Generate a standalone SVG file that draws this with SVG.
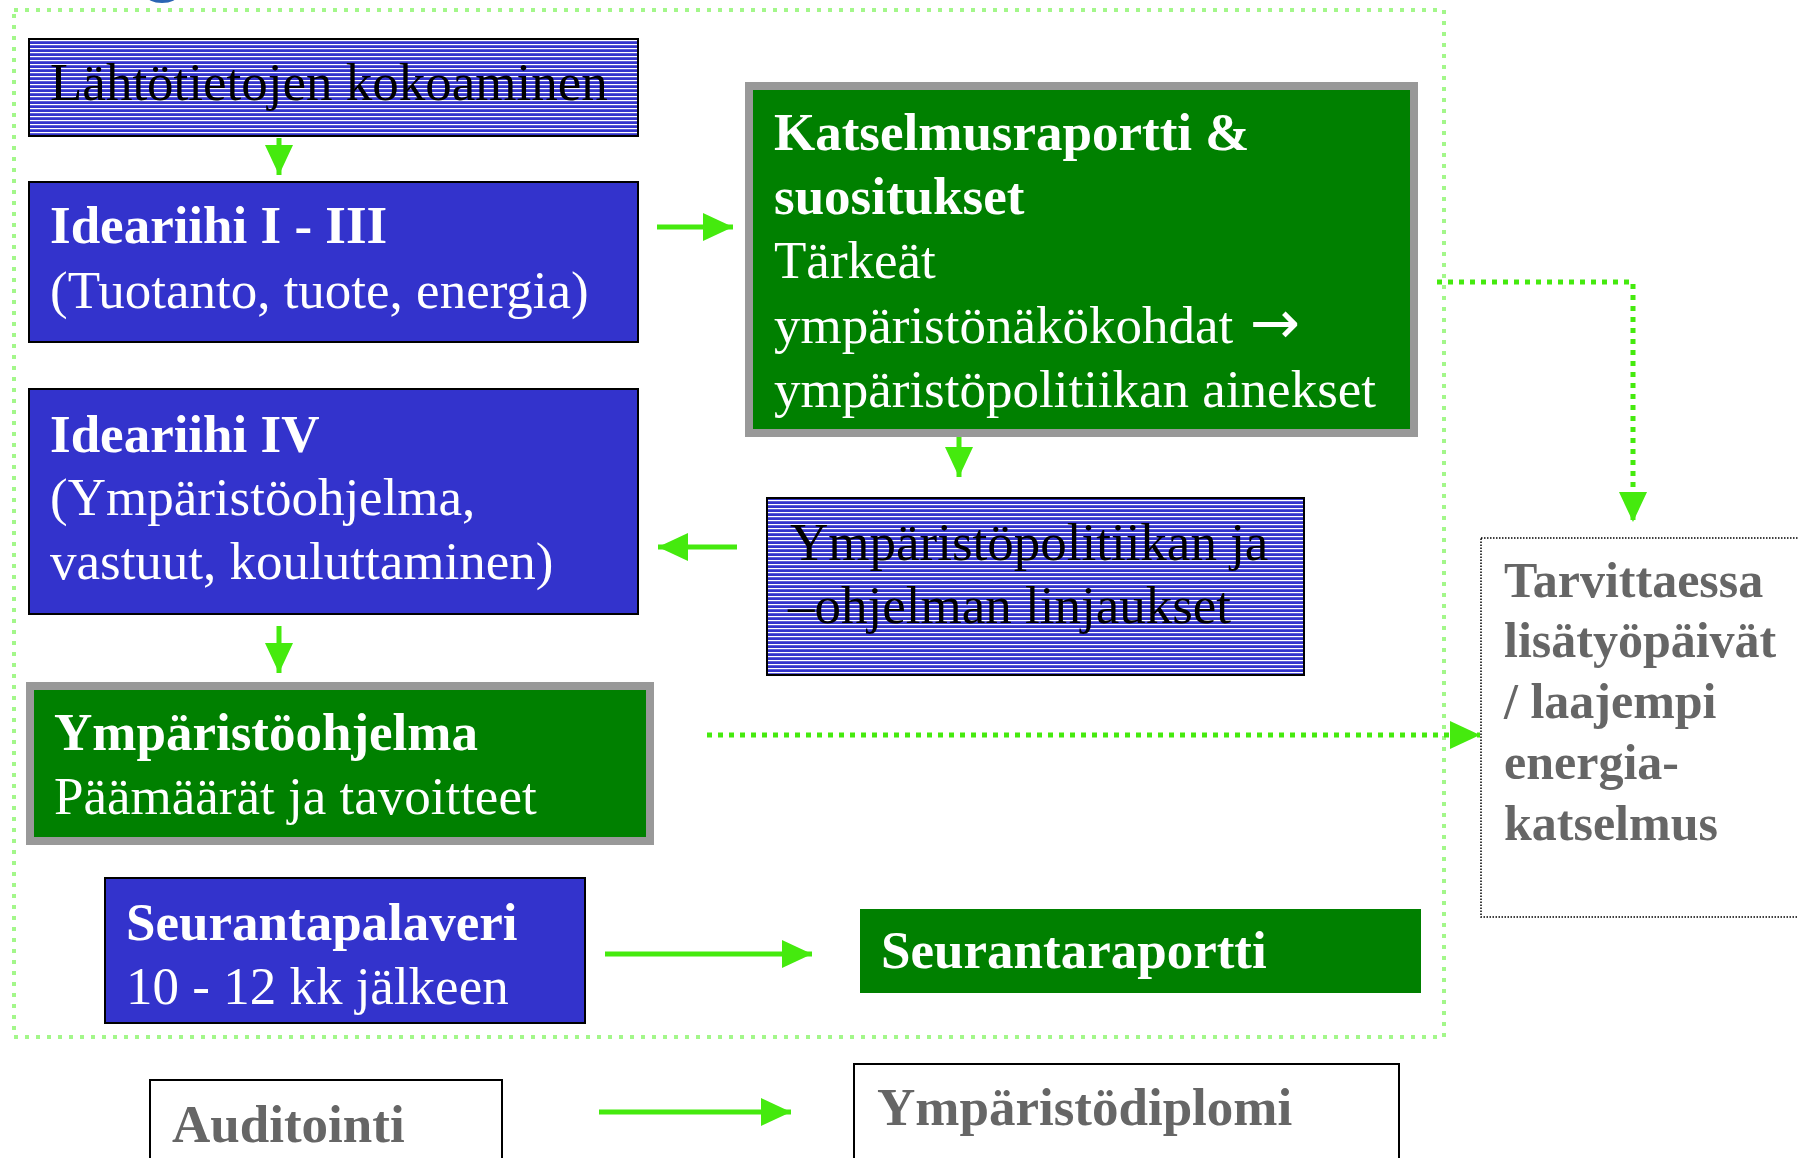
<svg xmlns="http://www.w3.org/2000/svg" width="1798" height="1158" viewBox="0 0 1798 1158">
<defs>
<pattern id="stripes" patternUnits="userSpaceOnUse" width="8" height="4">
<rect x="0" y="0" width="8" height="4" fill="#3333CC"/>
<rect x="0" y="0" width="8" height="1.2" fill="#FFFFFF"/>
</pattern>
<marker id="ah" markerUnits="userSpaceOnUse" markerWidth="30" markerHeight="28" refX="30" refY="14" orient="auto" viewBox="0 0 30 28">
<path d="M0,0 L30,14 L0,28 Z" fill="#45EA0E"/>
</marker>
</defs>
<style>
text{font-family:"Liberation Serif","Times New Roman",serif;font-size:53px}
.b{font-weight:bold}
.w{fill:#FFFFFF}
.k{fill:#000000}
.g{fill:#666666}
.arr{font-family:"DejaVu Sans",sans-serif;font-size:60px}
.blue{fill:#3333CC;stroke:#000000;stroke-width:2}
.str{fill:url(#stripes);stroke:#000000;stroke-width:2}
.grn{fill:#008000;stroke:#999999;stroke-width:8}
.wbox{fill:#FFFFFF;stroke:#000000;stroke-width:2}
.conn{stroke:#45EA0E;stroke-width:5;fill:none;marker-end:url(#ah)}
.dot{stroke:#45EA0E;stroke-width:5;fill:none;stroke-dasharray:5 6;marker-end:url(#ah)}
</style>
<rect width="1798" height="1158" fill="#FFFFFF"/>
<ellipse cx="162" cy="-5" rx="16" ry="8" fill="#2A64B4"/>
<g id="frame">
<rect x="14" y="10" width="1430" height="1027" fill="none" stroke="#A3F78A" stroke-width="4" stroke-dasharray="4 7"/>
</g>
<g id="n1">
<rect class="str" x="29" y="39" width="609" height="97"/>
<text class="k" x="50" y="100">Lähtötietojen kokoaminen</text>
</g>
<g id="n2">
<rect class="blue" x="29" y="182" width="609" height="160"/>
<text class="w b" x="50" y="243">Ideariihi I - III</text>
<text class="w" x="50" y="308">(Tuotanto, tuote, energia)</text>
</g>
<g id="n3">
<rect class="grn" x="749" y="86" width="665" height="347"/>
<text class="w b" x="774" y="150">Katselmusraportti &amp;</text>
<text class="w b" x="774" y="214">suositukset</text>
<text class="w" x="774" y="278">Tärkeät</text>
<text class="w" x="774" y="343">ympäristönäkökohdat <tspan class="arr" x="1250" y="343">→</tspan></text>
<text class="w" x="774" y="407">ympäristöpolitiikan ainekset</text>
</g>
<g id="n4">
<rect class="blue" x="29" y="389" width="609" height="225"/>
<text class="w b" x="50" y="452">Ideariihi IV</text>
<text class="w" x="50" y="515">(Ympäristöohjelma,</text>
<text class="w" x="50" y="579">vastuut, kouluttaminen)</text>
</g>
<g id="n5">
<rect class="grn" x="30" y="686" width="620" height="155"/>
<text class="w b" x="54" y="750">Ympäristöohjelma</text>
<text class="w" x="54" y="814">Päämäärät ja tavoitteet</text>
</g>
<g id="n6">
<rect class="str" x="767" y="498" width="537" height="177"/>
<text class="k" x="790" y="560">Ympäristöpolitiikan ja</text>
<text class="k" x="788" y="623">–ohjelman linjaukset</text>
</g>
<g id="n7">
<rect x="1481" y="538" width="330" height="379" fill="#FFFFFF" stroke="#000000" stroke-width="1.5" stroke-dasharray="1.5 1.5"/>
<text class="g b" style="font-size:50px" x="1504" y="597">Tarvittaessa</text>
<text class="g b" style="font-size:50px" x="1504" y="657">lisätyöpäivät</text>
<text class="g b" style="font-size:50px" x="1504" y="718">/ laajempi</text>
<text class="g b" style="font-size:50px" x="1504" y="779">energia-</text>
<text class="g b" style="font-size:50px" x="1504" y="840">katselmus</text>
</g>
<g id="n8">
<rect class="blue" x="105" y="878" width="480" height="145"/>
<text class="w b" x="126" y="940">Seurantapalaveri</text>
<text class="w" x="126" y="1004">10 - 12 kk jälkeen</text>
</g>
<g id="n9">
<rect x="860" y="909" width="561" height="84" fill="#008000"/>
<text class="w b" x="881" y="968">Seurantaraportti</text>
</g>
<g id="n10">
<rect class="wbox" x="150" y="1080" width="352" height="90"/>
<text class="g b" x="172" y="1142">Auditointi</text>
</g>
<g id="n11">
<rect class="wbox" x="854" y="1064" width="545" height="106"/>
<text class="g b" x="877" y="1125">Ympäristödiplomi</text>
</g>
<g id="connectors">
<line class="conn" x1="279" y1="138" x2="279" y2="175"/>
<line class="conn" x1="657" y1="227" x2="733" y2="227"/>
<line class="conn" x1="959" y1="437" x2="959" y2="477"/>
<line class="conn" x1="737" y1="547" x2="658" y2="547"/>
<line class="conn" x1="279" y1="626" x2="279" y2="673"/>
<path class="dot" d="M1437,282 H1633 V522"/>
<line class="dot" x1="707" y1="735" x2="1480" y2="735"/>
<line class="conn" x1="605" y1="954" x2="812" y2="954"/>
<line class="conn" x1="599" y1="1112" x2="791" y2="1112"/>
</g>
</svg>
